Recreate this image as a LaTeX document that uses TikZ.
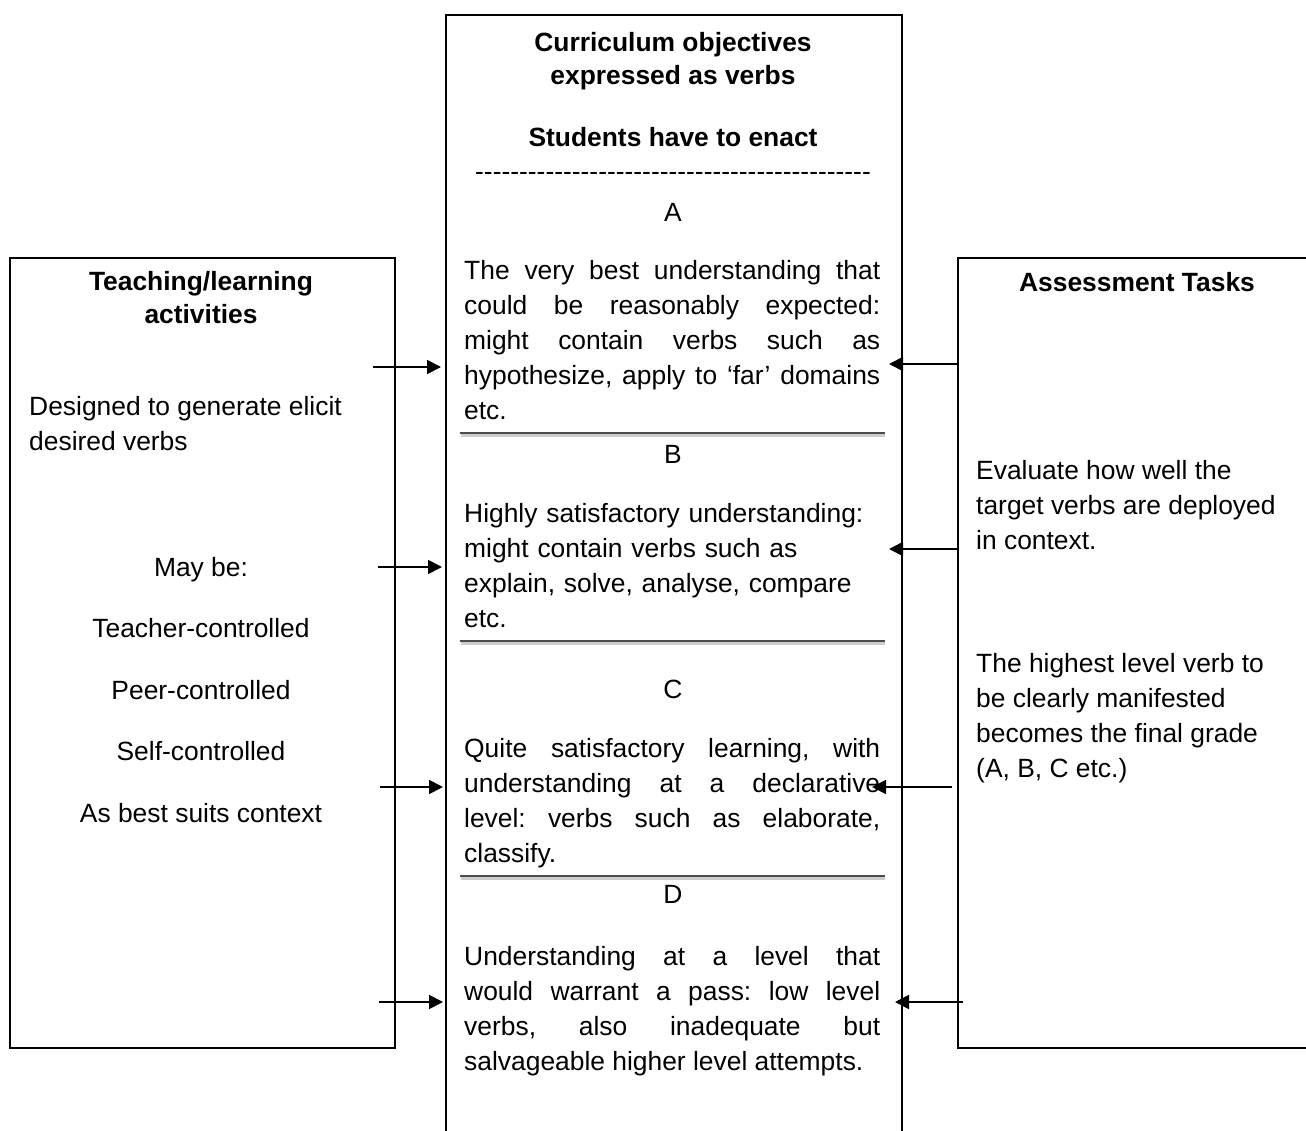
\documentclass[tikz,border=0pt]{standalone}
\usepackage{fontspec}
\setmainfont{Liberation Sans}
\usetikzlibrary{arrows.meta}
\frenchspacing
\begin{document}
\begin{tikzpicture}[x=1pt,y=-1pt,
  box/.style={draw=black, line width=2pt, inner sep=0pt, rectangle},
  body/.style={font=\fontsize{26.4}{35}\selectfont, inner sep=0pt},
  head/.style={font=\fontsize{26.4}{33}\selectfont\bfseries, inner sep=0pt, align=center},
  line/.style={body, anchor=base},
  lline/.style={body, anchor=base west, align=left},
  para/.style={body, text width=416pt, align=justify, anchor=base west},
  ragged/.style={body, text width=416pt, align=left, anchor=base west},
  link/.style={line width=1.8pt, -{Triangle[length=14pt,width=14pt]}},
  rulemark/.style={line width=2pt, draw=black!70},
  ruleshade/.style={line width=3pt, draw=black!20},
]
\useasboundingbox (0,0) rectangle (1306,1131);
\clip (0,0) rectangle (1306,1131);

% the three frames
\node[box, anchor=north west, minimum width=456pt, minimum height=1200pt] (objectives) at (445,14) {};
\node[box, anchor=north west, minimum width=385pt, minimum height=790pt] (activities) at (9,257) {};
\node[box, anchor=north west, minimum width=380pt, minimum height=790pt] (assessment) at (957,257) {};

% centre column: heading (multi-line nodes sit on their last baseline)
\node[head, anchor=base] (objtitle) at (673,85) {Curriculum objectives\\expressed as verbs};
\node[head, anchor=base] (enact) at (673,147) {Students have to enact};
\node[line] (dashes) at (673,181) {\foreach \k in {1,...,45}{-\kern0pt}};

% grade A
\node[line] (gradeA) at (673,222) {A};
\node[para] (textA) at (464,280) {\hyphenpenalty=10000 The very best understanding that\linebreak could be reasonably expected:\linebreak might contain verbs such as\linebreak hypothesize, apply to ‘far’ domains\linebreak etc.};
\draw[ruleshade] (461,435) -- (885,435);
\draw[rulemark] (460,433) -- (885,433);

% grade B
\node[line] (gradeB) at (673,463) {B};
\node[ragged] (textB) at (464,522) {Highly satisfactory understanding:\\might contain verbs such as\\explain, solve, analyse, compare\\etc.};
\draw[ruleshade] (461,643) -- (885,643);
\draw[rulemark] (460,641) -- (885,641);

% grade C
\node[line] (gradeC) at (673,698) {C};
\node[para] (textC) at (464,757) {\hyphenpenalty=10000 Quite satisfactory learning, with\linebreak understanding at a declarative\linebreak level: verbs such as elaborate,\linebreak classify.};
\draw[ruleshade] (461,878) -- (885,878);
\draw[rulemark] (460,876) -- (885,876);

% grade D
\node[line] (gradeD) at (673,903) {D};
\node[para] (textD) at (464,965) {\hyphenpenalty=10000 Understanding at a level that\linebreak would warrant a pass: low level\linebreak verbs, also inadequate but\linebreak salvageable higher level attempts.};

% left column
\node[head, anchor=base] (tlatitle) at (201,324) {Teaching/learning\\activities};
\node[lline] (designed) at (29,450) {Designed to generate elicit\\desired verbs};
\node[line] (maybe) at (201,576) {May be:};
\node[line] (teacher) at (201,637) {Teacher-controlled};
\node[line] (peer) at (201,699) {Peer-controlled};
\node[line] (self) at (201,760) {Self-controlled};
\node[line] (suits) at (201,822) {As best suits context};

% right column
\node[head, anchor=base] (attitle) at (1137,292) {Assessment Tasks};
\node[lline] (evaluate) at (976,549) {Evaluate how well the\\target verbs are deployed\\in context.};
\node[lline] (highest) at (976,777) {The highest level verb to\\be clearly manifested\\becomes the final grade\\(A, B, C etc.)};

% arrow ends
\coordinate (l1) at (373,367);  \coordinate (l1e) at (441,367);
\coordinate (l2) at (378,567);  \coordinate (l2e) at (442,567);
\coordinate (l3) at (380,787);  \coordinate (l3e) at (443,787);
\coordinate (l4) at (379,1002); \coordinate (l4e) at (443,1002);
\coordinate (r1) at (957,364);  \coordinate (r1e) at (889,364);
\coordinate (r2) at (957,549);  \coordinate (r2e) at (889,549);
\coordinate (r3) at (952,787);  \coordinate (r3e) at (872,787);
\coordinate (r4) at (963,1002); \coordinate (r4e) at (895,1002);

\draw[link] (l1) -- (l1e);
\draw[link] (l2) -- (l2e);
\draw[link] (l3) -- (l3e);
\draw[link] (l4) -- (l4e);
\draw[link] (r1) -- (r1e);
\draw[link] (r2) -- (r2e);
\draw[link] (r3) -- (r3e);
\draw[link] (r4) -- (r4e);
\end{tikzpicture}
\end{document}
